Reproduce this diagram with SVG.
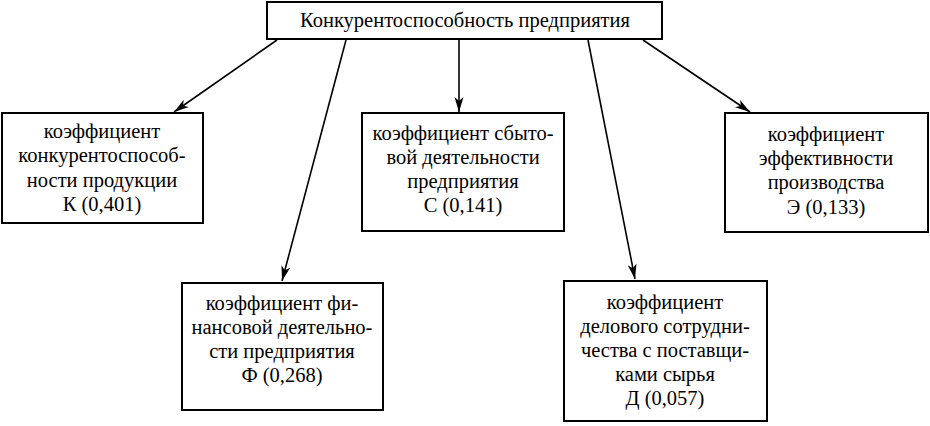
<svg xmlns="http://www.w3.org/2000/svg" width="930" height="426" viewBox="0 0 930 426" font-family="Liberation Serif, Times New Roman, serif">
<style>
rect{fill:#fff;stroke:#000;stroke-width:2}
text{font-size:20.5px;fill:#000;text-anchor:middle}
.c line{stroke:#000;stroke-width:1.6;marker-end:url(#ah)}
</style>
<defs>
<marker id="ah" markerWidth="16" markerHeight="10" refX="15" refY="5" orient="auto" markerUnits="userSpaceOnUse">
<path d="M0,0.5 L15,5 L0,9.5 L4,5 Z" fill="#000"/>
</marker>
</defs>
<rect width="930" height="426" fill="#fff" style="stroke:none"/>
<g class="c" id="connectors">
<line x1="277" y1="40" x2="174" y2="112"/>
<line x1="346" y1="40" x2="282" y2="281"/>
<line x1="459" y1="40" x2="459" y2="112"/>
<line x1="588" y1="40" x2="635" y2="279"/>
<line x1="643" y1="40" x2="750" y2="112"/>
</g>
<g id="top">
<rect x="267" y="2" width="395" height="37"/>
<text x="465" y="27">Конкурентоспособность предприятия</text>
</g>
<g id="k">
<rect x="2" y="113" width="201" height="110"/>
<text x="102"><tspan x="102" y="138">коэффициент</tspan><tspan x="102" y="162">конкурентоспособ-</tspan><tspan x="102" y="187">ности продукции</tspan><tspan x="102" y="211">К (0,401)</tspan></text>
</g>
<g id="f">
<rect x="182" y="283" width="201" height="127"/>
<text x="282"><tspan x="282" y="310">коэффициент фи-</tspan><tspan x="282" y="334">нансовой деятельно-</tspan><tspan x="282" y="358">сти предприятия</tspan><tspan x="282" y="382">Ф (0,268)</tspan></text>
</g>
<g id="s">
<rect x="362" y="113" width="202" height="118"/>
<text x="463"><tspan x="463" y="140">коэффициент сбыто-</tspan><tspan x="463" y="164">вой деятельности</tspan><tspan x="463" y="188">предприятия</tspan><tspan x="463" y="212">С (0,141)</tspan></text>
</g>
<g id="d">
<rect x="564" y="281" width="203" height="140"/>
<text x="665"><tspan x="665" y="309">коэффициент</tspan><tspan x="665" y="333">делового сотрудни-</tspan><tspan x="665" y="357">чества с поставщи-</tspan><tspan x="665" y="381">ками сырья</tspan><tspan x="665" y="405">Д (0,057)</tspan></text>
</g>
<g id="e">
<rect x="725" y="113" width="203" height="119"/>
<text x="826"><tspan x="826" y="141">коэффициент</tspan><tspan x="826" y="165">эффективности</tspan><tspan x="826" y="189">производства</tspan><tspan x="826" y="214">Э (0,133)</tspan></text>
</g>
</svg>
